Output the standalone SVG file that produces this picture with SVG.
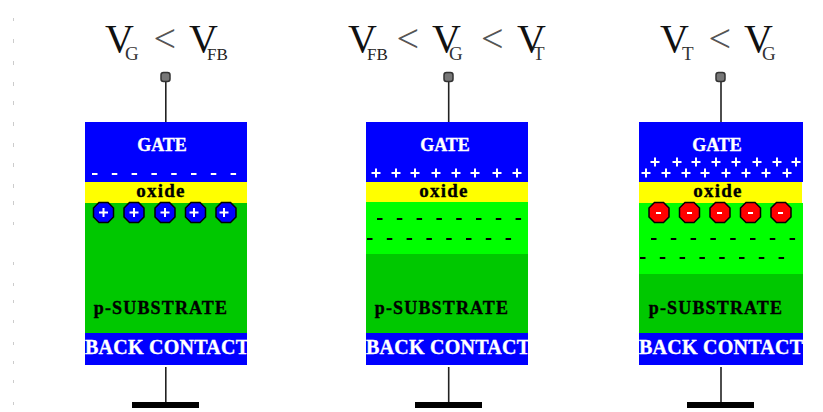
<svg xmlns="http://www.w3.org/2000/svg" width="823" height="412" viewBox="0 0 823 412">
<style>
.t{font-family:"Liberation Serif","Times New Roman",serif;fill:#111;font-size:40px}
.s{font-size:19px;fill:#333}.f{font-size:17px;fill:#222}.l{font-size:40px;fill:#555}
.b{font-family:"Liberation Serif","Times New Roman",serif;font-weight:bold;text-anchor:middle;stroke-width:.35}
.w{fill:#fff;stroke:#fff}.k{fill:#000;stroke:#000}
.gate,.back{fill:#0000ff}.ox{fill:#ffff00}.dep{fill:#00ff00}.sub{fill:#00c800}
.wire{stroke:#222;stroke-width:1.6;fill:none}
.ground{fill:#000}
.term{fill:#777;stroke:#333;stroke-width:1.5}
.pos{stroke:#fff;stroke-width:2;fill:none}
.neg{stroke:#000;stroke-width:2;fill:none;stroke-dasharray:5.5 14.300}
.wneg{stroke:#fff;stroke-width:2;fill:none;stroke-dasharray:5.5 14.300}
.ion1{fill:#0000ff;stroke:#000;stroke-width:1.5}
.ion2{fill:#ff0000;stroke:#000;stroke-width:1.5}
</style>
<defs>
<path id="plus" class="pos" d="M-4.500 0H4.500M0-4.500V4.500"/>
<polygon id="oct" points="-4.500,-10 4.500,-10 10,-4.500 10,4.500 4.500,10 -4.500,10 -10,4.500 -10,-4.500"/>
</defs>
<path d="M13.500 18v3M13.500 39v4M13.500 61v4M13.500 82v4M13.500 101v4M13.500 122v4M13.500 143v4M13.500 163v4M13.500 184v4M13.500 201v4M13.500 222v3M13.500 262v3M13.500 283v3M13.500 300v3M13.500 320v3M13.500 342v3M13.500 361v3M13.500 380v3M13.500 402v3" stroke="#ccc" stroke-width="1" fill="none"/>
<g id="connectors">
<path class="wire" d="M165.800 80V122M165.800 367V403"/>
<path class="wire" d="M448.700 80V122M448.700 367V403"/>
<path class="wire" d="M721 80V122M721 367V403"/>
</g>
<g id="condition-1">
<text class="t"><tspan x="105" y="52">V</tspan><tspan class="s" x="125" y="60">G</tspan><tspan class="l" x="153.500" y="52">&lt;</tspan><tspan x="189" y="52">V</tspan><tspan class="f" x="207" y="60">FB</tspan></text>
</g>
<g id="condition-2">
<text class="t"><tspan x="348" y="52">V</tspan><tspan class="f" x="367" y="60">FB</tspan><tspan class="l" x="396.500" y="52">&lt;</tspan><tspan x="432" y="52">V</tspan><tspan class="s" x="449" y="60">G</tspan><tspan class="l" x="481" y="52">&lt;</tspan><tspan x="517" y="52">V</tspan><tspan class="s" x="533" y="60">T</tspan></text>
</g>
<g id="condition-3">
<text class="t"><tspan x="660" y="52">V</tspan><tspan class="s" x="682" y="60">T</tspan><tspan class="l" x="708.500" y="52">&lt;</tspan><tspan x="744" y="52">V</tspan><tspan class="s" x="762" y="60">G</tspan></text>
</g>
<g id="terminal-1"><rect class="term" x="161" y="72.500" width="9" height="9" rx="2.500"/></g>
<g id="terminal-2"><rect class="term" x="444" y="72.500" width="9" height="9" rx="2.500"/></g>
<g id="terminal-3"><rect class="term" x="716" y="72.500" width="9" height="9" rx="2.500"/></g>
<g id="capacitor-1">
<rect class="gate" x="85" y="122" width="162" height="60"/>
<rect class="ox" x="85" y="182" width="162" height="21"/>
<rect class="sub" x="85" y="203" width="162" height="130"/>
<rect class="back" x="85" y="333" width="162" height="32"/>
<text class="b w" x="162" y="151" font-size="18">GATE</text>
<path class="wneg" d="M92 174H242"/>
<text class="b k" x="161" y="197" font-size="19" letter-spacing="1.200">oxide</text>
<g class="ion1">
<use href="#oct" x="103.500" y="212.500"/><use href="#oct" x="134" y="212.500"/><use href="#oct" x="165" y="212.500"/><use href="#oct" x="195.500" y="212.500"/><use href="#oct" x="226" y="212.500"/>
</g>
<use href="#plus" x="103.500" y="212.500"/><use href="#plus" x="134" y="212.500"/><use href="#plus" x="165" y="212.500"/><use href="#plus" x="194" y="212.500"/><use href="#plus" x="224" y="212.500"/>
<text class="b k" x="161" y="314" font-size="18" letter-spacing="1.150">p-SUBSTRATE</text>
<text class="b w" x="167" y="354" font-size="20" textLength="164" lengthAdjust="spacing">BACK CONTACT</text>
<rect class="ground" x="132" y="402" width="67" height="6"/>
</g>
<g id="capacitor-2">
<rect class="gate" x="366" y="122" width="162" height="60"/>
<rect class="ox" x="366" y="182" width="162" height="20"/>
<rect class="dep" x="366" y="202" width="162" height="52"/>
<rect class="sub" x="366" y="254" width="162" height="79"/>
<rect class="back" x="366" y="333" width="162" height="32"/>
<text class="b w" x="445" y="151" font-size="18">GATE</text>
<use href="#plus" x="376" y="173"/><use href="#plus" x="396" y="173"/><use href="#plus" x="415" y="173"/><use href="#plus" x="436" y="173"/><use href="#plus" x="456" y="173"/><use href="#plus" x="475" y="173"/><use href="#plus" x="497" y="173"/><use href="#plus" x="517" y="173"/>
<text class="b k" x="444" y="197" font-size="19" letter-spacing="1.200">oxide</text>
<path class="neg" d="M377 219H527"/>
<path class="neg" d="M367 239H517"/>
<text class="b k" x="442" y="314" font-size="18" letter-spacing="1.150">p-SUBSTRATE</text>
<text class="b w" x="448" y="354" font-size="20" textLength="164" lengthAdjust="spacing">BACK CONTACT</text>
<rect class="ground" x="415" y="402" width="67" height="6"/>
</g>
<g id="capacitor-3">
<rect class="gate" x="639" y="122" width="164" height="60"/>
<rect class="ox" x="639" y="182" width="163" height="21"/>
<rect class="dep" x="639" y="203" width="164" height="71"/>
<rect class="sub" x="639" y="274" width="164" height="59"/>
<rect class="back" x="639" y="333" width="164" height="32"/>
<text class="b w" x="717" y="151" font-size="18">GATE</text>
<use href="#plus" x="655" y="162"/><use href="#plus" x="677" y="162"/><use href="#plus" x="696" y="162"/><use href="#plus" x="716" y="162"/><use href="#plus" x="736" y="162"/><use href="#plus" x="757" y="162"/><use href="#plus" x="777" y="162"/><use href="#plus" x="796" y="162"/>
<use href="#plus" x="646" y="173"/><use href="#plus" x="666" y="173"/><use href="#plus" x="686" y="173"/><use href="#plus" x="705" y="173"/><use href="#plus" x="726" y="173"/><use href="#plus" x="746" y="173"/><use href="#plus" x="766" y="173"/><use href="#plus" x="787" y="173"/>
<text class="b k" x="718" y="197" font-size="19" letter-spacing="1.200">oxide</text>
<g class="ion2">
<use href="#oct" x="659" y="212.500"/><use href="#oct" x="689.500" y="212.500"/><use href="#oct" x="720" y="212.500"/><use href="#oct" x="750.500" y="212.500"/><use href="#oct" x="781" y="212.500"/>
</g>
<path stroke="#fff" stroke-width="2" fill="none" d="M656 213h5M687 213h5M717 213h5M748 213h5M778 213h5"/>
<path class="neg" d="M651 239H801"/>
<path class="neg" d="M640 258H790"/>
<text class="b k" x="716" y="314" font-size="18" letter-spacing="1.150">p-SUBSTRATE</text>
<text class="b w" x="721" y="354" font-size="20" textLength="164" lengthAdjust="spacing">BACK CONTACT</text>
<rect class="ground" x="687" y="402" width="67" height="6"/>
</g>
</svg>
